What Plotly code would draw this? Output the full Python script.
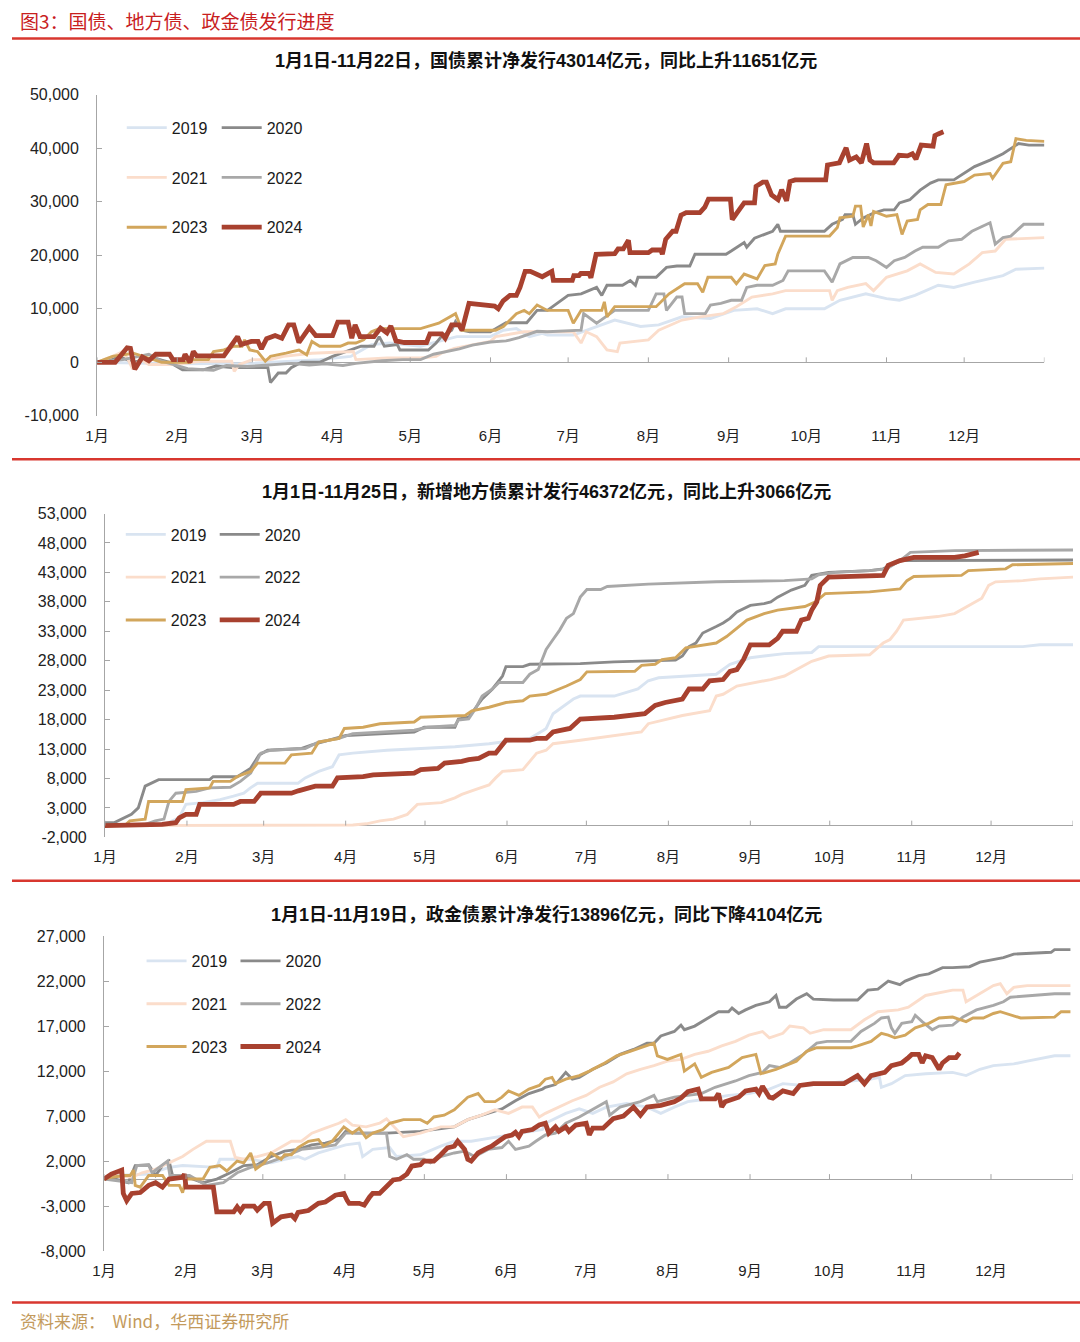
import plotly.graph_objects as go

# ---------------- data (day of year, value in 亿元) ----------------
MONTH_LABELS = ["1月", "2月", "3月", "4月", "5月", "6月", "7月", "8月", "9月", "10月", "11月", "12月"]
MONTH_START_DAYS = [0, 31, 60, 91, 121, 152, 182, 213, 244, 274, 305, 335]
YEAR_END_DAY = 366
YEARS = ["2019", "2020", "2021", "2022", "2023", "2024"]

# 国债累计净发行
GB_2019 = [(0, 0), (30, -300), (60, -200), (86, 500), (98, 1100), (106, 3300), (113, 3600), (125, 3000), (132, 3900), (139, 4800), (152, 4800), (157, 6000), (162, 6300), (167, 4800), (172, 5400), (174, 5100), (184, 5100), (200, 7900), (210, 6700), (217, 7000), (226, 8500), (237, 8200), (246, 9700), (255, 10000), (261, 9100), (266, 10000), (281, 10000), (287, 11600), (297, 12800), (305, 11900), (310, 11600), (316, 12500), (325, 14400), (331, 14000), (339, 15000), (350, 16200), (355, 17400), (366, 17600)]
GB_2020 = [(0, 0), (9, 1000), (14, 0), (22, 800), (28, 0), (33, -1400), (41, -1400), (46, -700), (52, -1000), (66, -1000), (67, -3800), (70, -2000), (73, -2000), (75, -1000), (79, 0), (86, 0), (91, 1100), (98, 2300), (102, 3000), (107, 3000), (109, 4800), (111, 3000), (116, 3300), (117, 2300), (128, 2300), (131, 3600), (133, 4800), (137, 6000), (138.5, 7600), (141, 6000), (144, 5700), (152, 5700), (154, 6300), (158, 7400), (166, 7400), (170, 9700), (174, 9700), (182, 12500), (187, 12800), (193, 14000), (195, 12500), (197, 14400), (203, 14400), (206, 15300), (208, 14400), (209, 15900), (216, 15900), (220, 17750), (224, 18000), (229, 18000), (231, 20200), (243, 20200), (245, 20800), (250, 22400), (251, 21500), (254, 23200), (261, 24500), (263, 25800), (264, 24500), (281, 24500), (284, 25800), (288, 26700), (289, 27600), (292, 27600), (293, 25800), (296, 27000), (300, 27900), (304, 28500), (308, 28500), (310, 29800), (314, 30400), (318, 32200), (322, 33500), (325, 34100), (331, 34100), (335, 35300), (339, 36600), (345, 37800), (350, 39000), (356, 40900), (360, 40600), (366, 40600)]
GB_2021 = [(0, 0), (6, 1100), (10, 2000), (12, 500), (13.5, -1000), (17, 500), (20, -400), (30, -400), (40, 200), (52, 200), (53, -1700), (55, -400), (60, 500), (67, 500), (72, 1100), (83, 1700), (99, 2000), (100, 500), (112, 800), (125, 800), (131, 1100), (133, 1700), (138, 2600), (152, 3900), (154, 4800), (165, 5700), (184, 5700), (187, 3600), (189, 5700), (193, 4800), (197, 2300), (201, 2000), (202, 3600), (213, 4200), (217, 6000), (226, 7900), (233, 8500), (242, 9100), (247, 10400), (253, 12200), (261, 12800), (266, 13400), (283, 13400), (284, 11600), (286, 13400), (290, 14000), (297, 14700), (300, 13400), (305, 15900), (313, 17100), (318, 18400), (324, 16800), (331, 16500), (337, 18400), (342, 20500), (347, 20800), (351, 23000), (366, 23300)]
GB_2022 = [(0, 0), (10, 500), (20, 1500), (25, 200), (30, -500), (35, -1200), (45, -1500), (50, -600), (58, -800), (65, -500), (75, -200), (82, -500), (88, -300), (95, -600), (100, -200), (110, 300), (118, 500), (125, 500), (130, 1500), (140, 2500), (145, 3200), (152, 3800), (158, 4000), (163, 4600), (170, 5800), (174, 5700), (187, 6000), (188, 9100), (193, 7300), (200, 9700), (213, 9700), (216, 12800), (219, 12800), (220, 9700), (224, 12200), (226, 12200), (227, 9100), (235, 9100), (237, 10700), (241, 11000), (245, 11600), (249, 11600), (251, 14000), (255, 14400), (261, 14400), (265, 15300), (267, 17100), (281, 17100), (284, 15000), (287, 18400), (292, 19600), (298, 19600), (301, 19000), (305, 17750), (308, 19000), (312, 19600), (316, 20800), (319, 21500), (325, 21500), (329, 22700), (334, 23000), (338, 24500), (345, 26100), (347, 22100), (350, 23300), (353, 23600), (358, 25800), (366, 25800)]
GB_2023 = [(0, 0), (6, 1100), (14, 1700), (20, 800), (25, 0), (36, 0), (37, 500), (43, 500), (45, 2000), (49, 2300), (53, 3000), (56, 3000), (57, 4200), (59, 2300), (62, 2000), (65, 200), (67, 1100), (73, 1700), (78, 2300), (81, 1400), (83, 3900), (86, 3000), (94, 3000), (97, 3600), (100, 3600), (103, 4200), (106, 5700), (109, 6300), (125, 6300), (132, 7300), (136, 8500), (138.5, 9100), (141, 6000), (154, 6000), (157, 6700), (162, 9100), (165, 9700), (167, 9100), (170, 10700), (174, 9700), (182, 9700), (184, 7300), (187, 9700), (195, 9700), (196, 11300), (197, 8500), (200, 10400), (216, 10400), (221, 12800), (227, 14700), (232, 14700), (234, 13100), (236, 15900), (245, 15900), (247, 14700), (250, 16500), (255, 15600), (258, 18100), (262, 18400), (263, 20200), (266, 23600), (283, 23600), (286, 25200), (287, 27000), (292, 27300), (293, 29200), (295, 29200), (296, 25300), (298, 27600), (299, 25500), (300, 28200), (305, 27300), (309, 27600), (311, 23900), (313, 26400), (317, 26700), (318, 28500), (321, 29500), (326, 29500), (328, 33200), (335, 33800), (339, 35000), (345, 35300), (346, 34400), (350, 37200), (353, 37500), (355, 41800), (359, 41500), (366, 41300)]
GB_2024 = [(0, 0), (7, 0), (11.6, 2700), (12.9, 2600), (14.6, -1300), (17.5, 1000), (20, 300), (22.7, 1500), (28, 1500), (29.3, 500), (33.3, 500), (34, 1500), (35.9, 0), (37.2, 2000), (38.5, 1200), (49, 1200), (54.3, 4800), (55.6, 3300), (59.6, 3900), (62.2, 3900), (63.5, 2500), (65.5, 4400), (68.8, 5000), (71.4, 4500), (74, 7000), (76, 7000), (78, 3700), (82, 6500), (84.5, 5000), (91, 5000), (93, 7500), (97, 7500), (98.4, 4500), (99.7, 7000), (101.6, 4800), (107, 4800), (109.5, 6400), (112, 5500), (113.5, 6800), (115.5, 4000), (118.7, 3700), (127.3, 3700), (128.6, 5300), (133.2, 5300), (134.5, 4500), (137, 7000), (139.8, 7000), (141, 6000), (143.7, 11000), (153.6, 10500), (155, 10000), (156.9, 11500), (159.5, 12500), (162, 12500), (163.4, 14000), (165.4, 17000), (167.4, 17000), (172, 16000), (175.7, 17000), (176.3, 15300), (183.6, 15300), (184.2, 16200), (186.2, 16200), (186.9, 16600), (190.1, 16600), (190.8, 15800), (192.8, 20200), (200, 20300), (201.3, 21200), (203.3, 21200), (205.3, 22800), (205.9, 20500), (213, 20500), (214.5, 21000), (217.8, 21000), (218.4, 20200), (219.7, 23000), (222.4, 24500), (223.7, 24500), (225.6, 27500), (227.6, 28000), (232.9, 28000), (234.8, 29000), (236.2, 30500), (244.7, 30500), (245.4, 26700), (247.3, 28000), (250, 29800), (254, 29800), (254.6, 32900), (257.2, 33700), (258.6, 33700), (260.6, 31300), (263.1, 30400), (264.5, 32250), (266.4, 30200), (267.7, 33800), (269.7, 34100), (281.5, 34100), (282.2, 36900), (286.8, 37300), (288.1, 38700), (289.4, 40100), (290.7, 37800), (293.3, 38400), (295.3, 37300), (297.3, 40900), (298.6, 37800), (300, 37300), (307.8, 37300), (309.8, 38700), (313.1, 38600), (315, 39000), (316.4, 38000), (318.4, 40600), (323, 40400), (323.7, 42400), (325, 42700), (327, 43100)]

# 新增地方债累计发行
LG_2019 = [(0, 0), (21.6, 0), (28, 1300), (30.6, 3600), (37, 3900), (43.5, 4400), (48.6, 5000), (52.5, 5500), (55, 6400), (57.7, 7200), (73, 7200), (75.7, 8100), (80.8, 9200), (86, 10000), (88.5, 12000), (93.7, 12300), (106.6, 12800), (119.4, 13100), (132.3, 13400), (145.2, 13900), (160.6, 14800), (165.8, 16200), (166.8, 16500), (169.4, 19000), (177.1, 21500), (179.7, 22000), (192.5, 22000), (201.5, 23200), (205.4, 24600), (209.3, 25100), (231.1, 25700), (236.3, 27400), (244, 28500), (249.2, 28800), (256.9, 29200), (267.2, 29400), (269.8, 30400), (347, 30400), (353.4, 30700), (366, 30700)]
LG_2020 = [(0, 0), (0.4, 500), (3.6, 500), (7.5, 1300), (10, 1900), (12.6, 3000), (15.2, 6700), (20.3, 7800), (39.6, 7800), (40.9, 8300), (50, 8300), (55, 9700), (58.3, 12000), (61.5, 12800), (74.4, 13100), (78.2, 13700), (84.7, 14500), (91.1, 15300), (116.9, 15900), (120.7, 16700), (132.3, 16700), (133.6, 18100), (137.5, 18400), (142.6, 21500), (146.5, 23200), (150.3, 25400), (151.6, 27000), (158, 27000), (160.6, 27400), (179.7, 27500), (192.5, 27800), (215.7, 28100), (218.3, 28800), (220.8, 30400), (223.4, 31000), (226, 32700), (231.1, 33800), (233.7, 34400), (236.3, 35200), (238.9, 36300), (244, 37400), (249.2, 37700), (251.7, 38000), (254.3, 38800), (259.5, 40000), (264.6, 40800), (267.2, 42500), (273.6, 43000), (289.1, 43300), (294.2, 43600), (300.6, 45000), (366, 45100)]
LG_2021 = [(0, 0), (83.4, 0), (93.7, 100), (98.8, 300), (104, 800), (109.1, 1100), (114.3, 1900), (118.1, 3600), (127.2, 3900), (132.3, 4700), (134.9, 5300), (140, 6100), (145.2, 6900), (147.7, 8100), (150.3, 9200), (158, 9500), (160.6, 10900), (163.2, 12300), (166.8, 12800), (169.4, 13900), (179.7, 14500), (192.5, 15300), (202.8, 15900), (205.4, 17300), (210.6, 17900), (218.3, 18700), (228.6, 19500), (231.1, 22000), (233.7, 22300), (238.9, 23700), (251.7, 24800), (256.9, 25400), (267.2, 27900), (273.6, 28800), (289.1, 29000), (291.6, 29900), (294.2, 31000), (296.8, 31600), (299.3, 33000), (301.9, 34900), (314.8, 35500), (321.2, 36000), (327.7, 37700), (331.5, 38600), (334.1, 40800), (336.7, 41400), (347, 41600), (353.4, 41900), (366, 42200)]
LG_2022 = [(0, 0), (13.9, 0), (19, 800), (22.3, 1100), (24.2, 4100), (26.8, 5500), (34.5, 5800), (39.6, 6400), (47.4, 6500), (51.2, 7500), (55.1, 8900), (58.9, 12300), (62.8, 12800), (75.7, 13100), (80.8, 14200), (88.5, 14800), (93.7, 15600), (116.9, 16200), (122, 16700), (132.3, 17000), (133.6, 17900), (137.5, 18100), (140, 19800), (142.6, 22000), (146.5, 23200), (149, 24300), (158, 24300), (160.6, 25700), (163.8, 26500), (166.8, 29900), (169.4, 31600), (171.9, 33200), (174.5, 35200), (177.1, 36000), (179.7, 38800), (182.2, 40100), (187.4, 40100), (189.9, 40600), (205.4, 41000), (231.1, 41400), (256.9, 41600), (267.2, 41900), (269.8, 42600), (276.2, 43000), (289.1, 43300), (295.5, 43600), (300.6, 45000), (304.5, 46400), (321.2, 46700), (366, 46800)]
LG_2023 = [(0, 0), (7.5, 0), (9.4, 800), (15.2, 1100), (16.5, 4100), (29.3, 4100), (30.6, 6100), (39.6, 6400), (40.9, 7500), (47.4, 7500), (49.9, 8300), (55.1, 9200), (57.7, 10600), (68, 10600), (70.5, 12000), (78.2, 12300), (80.8, 14200), (88.5, 14800), (90.5, 16500), (97.6, 16700), (104, 17300), (116.9, 17600), (119.4, 18400), (136.2, 18700), (138.7, 19500), (145.2, 20100), (151.6, 20900), (158, 21200), (160.6, 22000), (166.8, 22300), (174.5, 23700), (179.7, 24800), (182.2, 26100), (200.3, 26200), (202.9, 27200), (208, 27400), (210.6, 28200), (215.7, 28500), (219.6, 30200), (231.1, 31000), (235, 32100), (242.7, 34900), (249.2, 36000), (254.3, 36600), (264.6, 37200), (268.6, 38000), (272.3, 39400), (289.1, 39700), (300.6, 40200), (303.2, 41600), (305.8, 42300), (323.8, 42500), (326.4, 43300), (340.5, 43600), (343.1, 44300), (366, 44500)]
LG_2024 = [(0, 0), (19, 0), (21.6, 200), (26.8, 500), (28.1, 1300), (30.6, 1900), (34.5, 1900), (35.8, 3600), (48.6, 3600), (51.2, 4100), (56.4, 4100), (58.9, 5500), (70.5, 5500), (73.1, 5900), (77, 6300), (79.5, 6700), (86, 6700), (87.9, 8100), (97.6, 8300), (101.4, 8600), (116.9, 8900), (119.4, 9500), (125.9, 9700), (128.4, 10600), (134.9, 10900), (137.5, 11200), (141.3, 11400), (145.2, 12300), (147.7, 12300), (151.6, 14500), (160.6, 14500), (163.2, 14800), (166.8, 14800), (169.4, 15900), (175.8, 16500), (179.7, 18100), (192.5, 18400), (204.1, 19000), (208, 20400), (211.8, 20900), (218.3, 21500), (220.8, 23200), (226, 23200), (228.6, 24600), (233.7, 24800), (236.3, 26200), (238.9, 26500), (241.4, 28200), (244, 30700), (251.1, 30700), (254.3, 31800), (256.2, 33000), (261.4, 33000), (263.3, 34900), (265.9, 35200), (267.2, 36600), (269.1, 38000), (270.4, 40800), (273.6, 42200), (294.2, 42500), (296.1, 44200), (300.6, 45000), (305.8, 45550), (321.2, 45550), (325.1, 45800), (330.3, 46400)]

# 政金债累计净发行
PB_2019 = [(0, 0), (4.1, 400), (16.9, 550), (24.6, 1300), (29.7, 1500), (42.6, 1300), (43.8, 2200), (55.4, 2200), (63.1, 1800), (68.2, 2200), (73.3, 2500), (75.9, 2200), (81, 2900), (91.3, 3800), (96.4, 4000), (97.7, 2500), (101.5, 3300), (107.9, 3500), (110.5, 2500), (119.5, 2700), (127.2, 3650), (132.3, 4200), (138.7, 4200), (149, 4700), (157.9, 5100), (165.6, 5500), (166.7, 6200), (174.4, 7300), (179.5, 7800), (184.6, 7300), (189.7, 8000), (197.4, 8400), (205.1, 8000), (210.3, 7300), (215.4, 8000), (220.5, 8600), (228.2, 8900), (235.9, 9300), (243.6, 9500), (251.3, 10000), (256.4, 10600), (264.1, 10400), (282.1, 10900), (289.7, 11100), (292.9, 11300), (293.6, 10200), (297.4, 10600), (302.6, 11500), (310.3, 11700), (320.5, 11850), (325.6, 11500), (330.8, 12200), (335.9, 12600), (343.6, 12800), (348.7, 13100), (359, 13700), (365, 13700)]
PB_2020 = [(0, 0), (4.1, 0), (9.2, -400), (11.8, 1500), (16.9, 1600), (19.5, 400), (22.1, 1500), (24.6, 2000), (25.9, 400), (29.7, 400), (37.4, -400), (42.6, 0), (47.7, 700), (52.8, 1500), (57.9, 1600), (63.1, 2500), (68.2, 3100), (73.3, 3300), (78.5, 3800), (83.6, 4000), (88.7, 4400), (91.3, 5300), (95.1, 5100), (106.7, 5100), (119.5, 5300), (132.3, 5800), (137.4, 6600), (145.1, 7300), (150.3, 7800), (155.4, 8700), (160.5, 9500), (165.6, 10000), (166.7, 10200), (170.5, 10500), (174.4, 11850), (176.9, 11100), (179.5, 11300), (184.6, 12200), (189.7, 12900), (194.9, 13850), (200, 14400), (205.1, 15100), (207.7, 15100), (210.3, 15900), (215.4, 16400), (217.9, 17100), (219.2, 16600), (223.1, 17000), (228.2, 17900), (232.1, 18600), (235.9, 18600), (237.2, 19000), (239.7, 18400), (242.3, 18800), (246.2, 19300), (251.3, 19700), (253.8, 20400), (255.1, 19100), (257.7, 19100), (261.5, 20000), (265.4, 20600), (267.9, 20000), (275.6, 19900), (284.6, 19900), (288.5, 21000), (292.3, 21100), (296.2, 22000), (298.7, 21800), (300.6, 21600), (302.6, 22000), (307.7, 22600), (311.5, 22800), (316.7, 23500), (320.5, 23500), (326.9, 23600), (330.8, 24100), (335.9, 24400), (339.7, 24600), (343.6, 25000), (357.7, 25200), (359, 25500), (365, 25500)]
PB_2021 = [(0, 0), (4.1, 400), (10.5, 200), (14.4, 700), (19.5, 1100), (24.6, 1800), (29.7, 2500), (33.6, 3300), (37.4, 4000), (38.7, 4200), (47.7, 4200), (49.6, 2400), (52.8, 2200), (57.9, 2500), (63.1, 2900), (68.2, 3800), (70.8, 4200), (74.6, 4200), (78.5, 5100), (83.6, 5650), (88.7, 6200), (91.3, 6600), (93.8, 6000), (99, 5800), (104.1, 6200), (106.7, 6700), (113.1, 4700), (119.5, 5100), (127.2, 5800), (132.3, 5800), (137.4, 6600), (142.6, 7100), (147.7, 7700), (152.8, 7300), (157.9, 8000), (161.8, 8000), (164.4, 6900), (166.7, 7300), (171.8, 8000), (176.9, 8700), (182.1, 9300), (187.2, 10200), (192.3, 10800), (197.4, 11700), (202.6, 12200), (207.7, 12600), (212.8, 13100), (217.9, 13300), (223.1, 13850), (228.2, 14200), (233.3, 14800), (238.5, 15300), (243.6, 16000), (248.7, 16400), (251.3, 15700), (256.4, 16200), (259, 17000), (264.1, 16800), (266.7, 16200), (271.8, 16600), (282.1, 16600), (287.2, 17700), (292.3, 18600), (300, 18800), (303.8, 19100), (310.3, 20400), (320.5, 21000), (324.4, 21000), (325.6, 19700), (329.5, 20400), (335.9, 21500), (338.5, 21700), (341, 20600), (343.6, 21300), (348.7, 21500), (365, 21500)]
PB_2022 = [(0, 0), (10.5, -400), (12.4, 1500), (16.9, 1500), (18.2, 700), (20.8, 1300), (24, 2000), (24.9, 400), (32.3, 400), (38.7, -700), (45.1, -400), (50.3, 700), (55.4, 1300), (61.8, 1800), (68.2, 2500), (74.6, 3300), (81, 3500), (87.4, 3800), (91.3, 5100), (106.7, 5100), (107.9, 2500), (110.5, 2200), (114.4, 2700), (116.9, 2200), (120.8, 2200), (123.3, 1800), (127.2, 2500), (132.3, 2900), (136.2, 3100), (140, 2500), (145.1, 3300), (150.3, 3500), (152.8, 4200), (155.4, 3300), (160.5, 3650), (163.1, 4200), (166.7, 4900), (170.5, 5100), (174.4, 6200), (179.5, 6900), (185.9, 8000), (189.7, 8600), (191, 7100), (194.9, 8000), (202.6, 8600), (207.7, 9300), (209, 8600), (215.4, 9100), (220.5, 9300), (225.6, 9500), (230.8, 10200), (233.3, 10400), (238.5, 10900), (243.6, 11500), (248.7, 11850), (251.3, 12600), (255.1, 12400), (259, 12900), (264.1, 13850), (269.2, 15100), (273.1, 15300), (282.1, 15300), (285.9, 16400), (291, 17300), (293.6, 17900), (296.2, 18000), (297.4, 16800), (298.7, 16200), (301.3, 17300), (305.1, 17500), (306.4, 18200), (309, 17500), (312.8, 16600), (315.4, 17000), (320.5, 17100), (324.4, 18000), (329.5, 18800), (335.9, 19300), (339.7, 19700), (342.3, 20200), (351.3, 20400), (359, 20600), (365, 20600)]
PB_2023 = [(0, 0), (2.8, 200), (7.9, 400), (9.9, 400), (11.2, 1000), (11.8, -700), (13.7, -900), (16.9, 400), (22.1, 400), (24.6, -700), (28.5, -700), (29.7, -1500), (31, 0), (37.4, 0), (40, 1300), (43.8, 1500), (46.4, 900), (50.3, 2000), (52.8, 1800), (55.4, 2900), (57.3, 1100), (60.5, 1800), (63.1, 2900), (66.9, 2200), (68.2, 2700), (70.8, 2700), (73.3, 3500), (77.2, 4200), (81, 4400), (82.9, 3650), (86.2, 4200), (88.7, 5100), (90.6, 5800), (93.8, 5100), (96.4, 5650), (99, 4600), (101.5, 5100), (105.4, 5500), (107.9, 6200), (110.5, 6400), (113.1, 6600), (119.5, 6600), (122.1, 6200), (124.6, 6900), (128.5, 7100), (132.3, 7700), (137.4, 9100), (141.3, 9500), (143.8, 8600), (147.7, 8600), (150.3, 9100), (152.8, 9800), (156.7, 9300), (160.5, 10000), (164.4, 10400), (166.7, 11100), (169.2, 11300), (170.5, 10600), (174.4, 11100), (179.5, 11500), (183.3, 12000), (188.5, 12800), (193.6, 13700), (198.7, 14200), (205.1, 14800), (207.7, 15100), (209, 13700), (212.8, 13300), (217.9, 13850), (219.2, 12000), (223.1, 12800), (225.6, 11300), (229.5, 11850), (235.9, 12400), (241, 13500), (246.2, 13850), (248.1, 11700), (253.8, 12200), (261.5, 13100), (265.4, 14200), (269.2, 14600), (282.1, 14600), (284.6, 14800), (289.7, 15300), (293.6, 16200), (296.2, 16000), (298.7, 15700), (302.6, 16000), (306.4, 16800), (311.5, 17300), (315.4, 17900), (320.5, 18000), (325.6, 17500), (328.2, 17900), (332.1, 17900), (335.9, 18400), (338.5, 18600), (346.2, 17900), (359, 18000), (361.5, 18600), (365, 18600)]
PB_2024 = [(0, 0), (2.8, 550), (6.7, 1000), (7.3, -1600), (8.6, -2400), (10.5, -1600), (13.7, -1500), (16.9, -700), (19.5, -400), (22.1, -900), (24.6, 0), (29.7, 200), (30.4, 550), (31, -900), (41.3, -900), (42.6, -3650), (49, -3650), (50.3, -3100), (51.5, -3570), (52.8, -3000), (56.7, -3000), (57.9, -3460), (60.5, -2700), (62.4, -2700), (63.7, -4900), (66.9, -4200), (70.8, -4000), (72.1, -4400), (73.3, -3700), (77.2, -3500), (81, -2700), (83.6, -2550), (87.4, -1800), (90.6, -1600), (91.9, -2400), (92.6, -2700), (96.4, -2700), (98.3, -2900), (100.3, -2000), (101.5, -1600), (104.1, -1600), (106.7, -900), (109.2, -100), (111.8, 0), (114.4, 550), (116.3, 1450), (119.5, 1600), (120.8, 2000), (124.6, 2000), (127.2, 2700), (129.7, 3450), (132.3, 3650), (133.6, 4200), (136.2, 3300), (137.4, 2200), (138.7, 2000), (141.3, 2900), (143.8, 3300), (146.4, 3650), (149, 4200), (151.5, 4700), (154.1, 4900), (155.4, 5200), (156.7, 4700), (157.9, 5300), (161.8, 5500), (164.4, 6000), (166.7, 6200), (168, 5100), (170.5, 5800), (171.8, 5300), (174.4, 5800), (175.6, 5300), (178.2, 6000), (182.1, 6200), (183.3, 4900), (184.6, 5650), (188.5, 5650), (192.3, 6700), (196.2, 7000), (200, 8000), (202.6, 7100), (205.1, 8000), (210.3, 8200), (212.8, 8400), (215.4, 8600), (217.9, 9000), (220.5, 9700), (224.4, 10000), (225.6, 8900), (230.8, 8900), (232.1, 9500), (233.3, 8000), (234.6, 8600), (239.7, 9100), (242.3, 9800), (246.2, 10000), (247.4, 9500), (248.7, 10300), (251.3, 9100), (252.6, 9000), (256.4, 9800), (260.3, 9500), (262.8, 10400), (267.9, 10600), (279.5, 10600), (284.6, 11500), (287.2, 10600), (289.7, 11500), (294.9, 11850), (297.4, 12600), (301.3, 12900), (303.8, 13500), (305.1, 13850), (307.7, 13850), (309, 12900), (310.3, 13700), (312.8, 13500), (315.4, 12200), (316.7, 12900), (319.2, 13500), (321.8, 13500), (323.1, 14000)]

GB_Y_TICKS = [-10000, 0, 10000, 20000, 30000, 40000, 50000]
GB_Y_TEXT = ["-10,000", "0", "10,000", "20,000", "30,000", "40,000", "50,000"]
LG_Y_TICKS = [-2000, 3000, 8000, 13000, 18000, 23000, 28000, 33000, 38000, 43000, 48000, 53000]
LG_Y_TEXT = ["-2,000", "3,000", "8,000", "13,000", "18,000", "23,000", "28,000", "33,000", "38,000", "43,000", "48,000", "53,000"]
PB_Y_TICKS = [-8000, -3000, 2000, 7000, 12000, 17000, 22000, 27000]
PB_Y_TEXT = ["-8,000", "-3,000", "2,000", "7,000", "12,000", "17,000", "22,000", "27,000"]

HEADER = "图3：国债、地方债、政金债发行进度"
FOOTER = "资料来源：  Wind，华西证券研究所"
TITLE_GB = "1月1日-11月22日，国债累计净发行43014亿元，同比上升11651亿元"
TITLE_LG = "1月1日-11月25日，新增地方债累计发行46372亿元，同比上升3066亿元"
TITLE_PB = "1月1日-11月19日，政金债累计净发行13896亿元，同比下降4104亿元"

# ---------------- styling ----------------
W, H = 1080, 1342
COLORS = {"2019": "#D9E4F1", "2020": "#8A8A8A", "2021": "#FBDDCB",
          "2022": "#A8A8A8", "2023": "#D2A65C", "2024": "#A8412F"}
WIDTHS = {"2019": 2.9, "2020": 2.9, "2021": 2.9, "2022": 2.9, "2023": 2.9, "2024": 4.8}
FONT = "Liberation Sans, Arial, Noto Sans CJK SC, sans-serif"
AXIS_GRAY = "#A6A6A6"
RED = "#D8372F"
LEGEND_ITEM_W = 40


def fx(px):
    return px / W


def fy(py):
    return 1 - py / H


panels = [
    dict(series=[GB_2019, GB_2020, GB_2021, GB_2022, GB_2023, GB_2024], title=TITLE_GB,
         yr=(-10000, 50000), ticks=GB_Y_TICKS, text=GB_Y_TEXT,
         xpx=(86, 1044), ypx=(88, 413), title_y=53,
         leg_x=(111, 207), leg_top=104, gap=26),
    dict(series=[LG_2019, LG_2020, LG_2021, LG_2022, LG_2023, LG_2024], title=TITLE_LG,
         yr=(-2000, 53000), ticks=LG_Y_TICKS, text=LG_Y_TEXT,
         xpx=(94, 1073), ypx=(512, 840), title_y=490,
         leg_x=(110, 205), leg_top=516, gap=19),
    dict(series=[PB_2019, PB_2020, PB_2021, PB_2022, PB_2023, PB_2024], title=TITLE_PB,
         yr=(-8000, 27000), ticks=PB_Y_TICKS, text=PB_Y_TEXT,
         xpx=(93, 1073), ypx=(940, 1259), title_y=918,
         leg_x=(131, 226), leg_top=948, gap=19),
]

fig = go.Figure()
layout = dict(width=W, height=H, autosize=False,
              margin=dict(l=0, r=0, t=0, b=0),
              paper_bgcolor="white", plot_bgcolor="white",
              font=dict(family=FONT, color="#1a1a1a"),
              showlegend=True)
annotations = []
shapes = []

for pi, p in enumerate(panels):
    n = pi + 1
    xa = "x" if n == 1 else f"x{n}"
    ya = "y" if n == 1 else f"y{n}"
    xkey = "xaxis" if n == 1 else f"xaxis{n}"
    ykey = "yaxis" if n == 1 else f"yaxis{n}"
    leg_a = "legend" if pi == 0 else f"legend{2 * pi + 1}"
    leg_b = f"legend{2 * pi + 2}"

    for yi, (year, ser) in enumerate(zip(YEARS, p["series"])):
        fig.add_trace(go.Scatter(
            x=[d for d, _ in ser], y=[v for _, v in ser],
            mode="lines", name=year,
            line=dict(color=COLORS[year], width=WIDTHS[year]),
            xaxis=xa, yaxis=ya,
            legend=leg_a if yi % 2 == 0 else leg_b,
            legendgroup=f"p{n}_{year}",
            hoverinfo="skip",
        ))

    y0, y1 = p["yr"]
    layout[xkey] = dict(domain=[fx(p["xpx"][0]), fx(p["xpx"][1])], anchor=ya,
                        range=[0, YEAR_END_DAY], tickmode="array",
                        tickvals=MONTH_START_DAYS, ticktext=MONTH_LABELS,
                        showgrid=False, zeroline=False, showline=False, ticks="",
                        tickfont=dict(size=15, color="#222"), ticklabelstandoff=9,
                        fixedrange=True)
    layout[ykey] = dict(domain=[fy(p["ypx"][1]), fy(p["ypx"][0])], anchor=xa,
                        range=[y0, y1], tickmode="array",
                        tickvals=p["ticks"], ticktext=p["text"],
                        showgrid=False, zeroline=True, zerolinecolor=AXIS_GRAY, zerolinewidth=1,
                        showline=True, linecolor=AXIS_GRAY, linewidth=1,
                        ticks="inside", ticklen=5, tickcolor=AXIS_GRAY,
                        tickfont=dict(size=16, color="#222"), ticklabelstandoff=14,
                        fixedrange=True)

    # month tick marks on the zero line
    zfrac = (0 - y0) / (y1 - y0)
    plot_h = p["ypx"][1] - p["ypx"][0]
    for d in MONTH_START_DAYS + [YEAR_END_DAY]:
        shapes.append(dict(type="line", xref=xa, yref=f"{ya} domain",
                           x0=d, x1=d, y0=zfrac, y1=zfrac + 5 / plot_h,
                           line=dict(color=AXIS_GRAY, width=1)))

    for k, lg in enumerate([leg_a, leg_b]):
        layout[lg] = dict(x=fx(p["leg_x"][k]), y=fy(p["leg_top"]), xanchor="left", yanchor="top",
                          orientation="v", traceorder="grouped", tracegroupgap=p["gap"],
                          itemwidth=LEGEND_ITEM_W,
                          bgcolor="rgba(0,0,0,0)", borderwidth=0,
                          font=dict(size=16, color="#1a1a1a", family=FONT))

    annotations.append(dict(text=f"<b>{p['title']}</b>", xref="paper", yref="paper",
                            x=0.5, y=fy(p["title_y"]), xanchor="center", yanchor="middle",
                            showarrow=False, font=dict(size=18, color="#111", family=FONT)))

# header / footer / separators
annotations.append(dict(text=HEADER, xref="paper", yref="paper", x=fx(6), y=fy(13),
                        xanchor="left", yanchor="middle", showarrow=False,
                        font=dict(size=19, color="#C8201E", family="Noto Sans CJK SC")))
annotations.append(dict(text=FOOTER, xref="paper", yref="paper", x=fx(6), y=fy(1329),
                        xanchor="left", yanchor="middle", showarrow=False,
                        font=dict(size=17, color="#C39A5C", family="Noto Sans CJK SC, Liberation Sans")))
for yy, wdt in [(31, 2.5), (457, 2.5), (884, 2.5), (1311, 2.5)]:
    shapes.append(dict(type="line", xref="paper", yref="paper", x0=0, x1=1,
                       y0=fy(yy), y1=fy(yy), line=dict(color=RED, width=wdt)))

layout["annotations"] = annotations
layout["shapes"] = shapes
fig.update_layout(**layout)

PIN_PAGE = ("document.documentElement.style.margin='0';document.documentElement.style.padding='0';"
            "document.documentElement.style.overflow='hidden';"
            "document.body.style.margin='0';document.body.style.padding='0';document.body.style.overflow='hidden';"
            "var gd=document.getElementById('{plot_id}');gd.style.position='fixed';gd.style.left='0px';gd.style.top='0px';")
fig.write_html("out.html", config={"displayModeBar": False}, post_script=PIN_PAGE)
